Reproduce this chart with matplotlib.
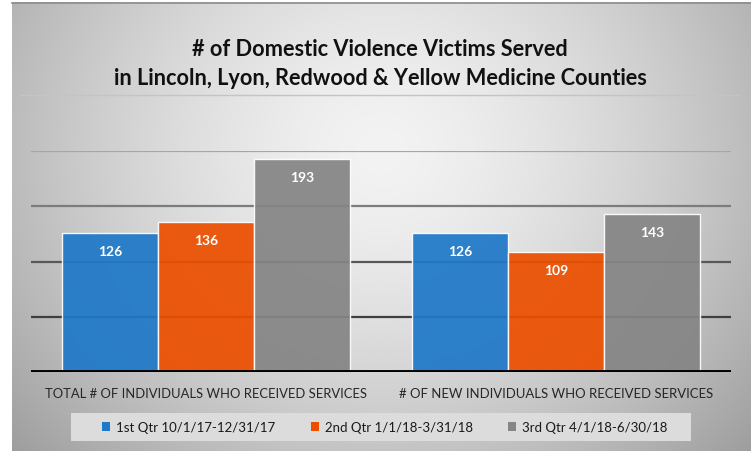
import numpy as np
import matplotlib
matplotlib.use("Agg")
import matplotlib.pyplot as plt
from matplotlib import font_manager
from matplotlib.lines import Line2D
from matplotlib.patches import Patch, Rectangle

# ---- data ----
categories = ["TOTAL # OF INDIVIDUALS WHO RECEIVED SERVICES",
              "# OF NEW INDIVIDUALS WHO RECEIVED SERVICES"]
series_names = ["1st Qtr 10/1/17-12/31/17",
                "2nd Qtr 1/1/18-3/31/18",
                "3rd Qtr 4/1/18-6/30/18"]
q1_values = [126, 126]
q2_values = [136, 109]
q3_values = [193, 143]
series_values = [q1_values, q2_values, q3_values]
gridline_values = [50, 100, 150, 200]
title_text = "# of Domestic Violence Victims Served\nin Lincoln, Lyon, Redwood & Yellow Medicine Counties"

colors = ["#1f78c8", "#ec4f00", "#858585"]

names = {f.name for f in font_manager.fontManager.ttflist}
narrow = "Liberation Sans Narrow" if "Liberation Sans Narrow" in names else "Lato"
boldfam = "Lato" if "Lato" in names else "DejaVu Sans"

W, H = 751, 452
fig = plt.figure(figsize=(W / 100, H / 100), dpi=100)
fig.patch.set_facecolor("white")

def fx(px):
    return px / W

def fy(py):
    return 1 - py / H

# ---- gradient background ----
bg = fig.add_axes([fx(12), 0, 1 - fx(12), fy(3)])
bg.set_axis_off()
nx, ny = 400, 240
xx, yy = np.meshgrid(np.linspace(0, 1, nx), np.linspace(0, 1, ny))
r = np.sqrt(((xx - 0.5) / 0.6) ** 2 + ((yy - 0.33) / 0.9) ** 2)
val = np.clip(243 - 72 * r ** 1.5, 150, 245) / 255.0
img = np.dstack([val, val, val])
bg.imshow(img, aspect="auto", extent=[0, 1, 1, 0], interpolation="bilinear")
bg.set_xlim(0, 1)
bg.set_ylim(1, 0)

# top border and faint separator
fig.add_artist(Line2D([fx(12), 1], [fy(3.5), fy(3.5)], color="#8c8c8c", lw=1.2))
fig.add_artist(Line2D([fx(20), fx(740)], [fy(96), fy(96)], color="#c4c4c4", lw=1.0))

# legend background box
fig.add_artist(Rectangle((fx(71), fy(442)), fx(691) - fx(71), (442 - 414) / H,
                         facecolor="#dcdcdc", edgecolor="none", zorder=1))

# ---- main axes ----
ax = fig.add_axes([fx(31), fy(373), fx(731) - fx(31), (373 - 152) / H])
ax.patch.set_alpha(0)
for s in ax.spines.values():
    s.set_visible(False)
ax.set_xlim(-0.5, 1.5)
ax.set_ylim(0, 200)

grid_colors = {50: "#3f3f3f", 100: "#585858", 150: "#7c7c7c", 200: "#a6a6a6"}
for g in gridline_values:
    ax.axhline(g, color=grid_colors[g], lw=1.6, zorder=1)
ax.axhline(0, color="black", lw=2.8, zorder=4)

x = np.arange(len(categories))
bw = 0.2734
for i, (vals, c, nm) in enumerate(zip(series_values, colors, series_names)):
    bars = ax.bar(x + (i - 1) * bw, vals, bw, color=c, alpha=0.93,
                  edgecolor=(1, 1, 1, 0.3), linewidth=1.0, zorder=2, label=nm)
    for b, v in zip(bars, vals):
        ax.annotate(str(v), (b.get_x() + b.get_width() / 2, v),
                    xytext=(0, -13), textcoords="offset points",
                    ha="center", va="center", color="white",
                    fontsize=10, fontweight="bold", family=boldfam, zorder=5)

ax.set_yticks([])
ax.set_xticks(x)
ax.set_xticklabels(categories, family=narrow, fontsize=10, color="#262626")
ax.tick_params(axis="x", length=0, pad=11)

# ---- title ----
title = fig.text(fx(380), fy(64), title_text, ha="center", va="center",
                 fontsize=14, fontweight="bold", family=boldfam,
                 color="#111111", linespacing=1.45)

# ---- fit text widths to the reference ----
fig.canvas.draw()
rend = fig.canvas.get_renderer()

def fit(t, target):
    w = t.get_window_extent(rend).width
    if w > 0:
        t.set_fontsize(t.get_fontsize() * target / w)

for t, tw in zip(ax.get_xticklabels(), [320, 311]):
    fit(t, tw)
fit(title, 536)

# legend font size chosen so the first entry text is ~158 px wide
probe = fig.text(0, 0, series_names[0], family=narrow, fontsize=11)
pw = probe.get_window_extent(rend).width
probe.remove()
leg_size = 11 * 158 / pw

handles = [Patch(facecolor=c, edgecolor="none") for c in colors]
leg = fig.legend(handles, series_names, loc="center",
                 bbox_to_anchor=(fx(385), fy(428)), ncol=3, frameon=False,
                 handlelength=0.6, handleheight=0.6,
                 handletextpad=0.45, columnspacing=2.7, borderpad=0.5,
                 borderaxespad=0, prop={"family": narrow, "size": leg_size})
leg.set_zorder(3)
for t in leg.get_texts():
    t.set_color("#1a1a1a")

fig.canvas.draw()
fig.savefig("out.png", dpi=100, facecolor=fig.get_facecolor())
